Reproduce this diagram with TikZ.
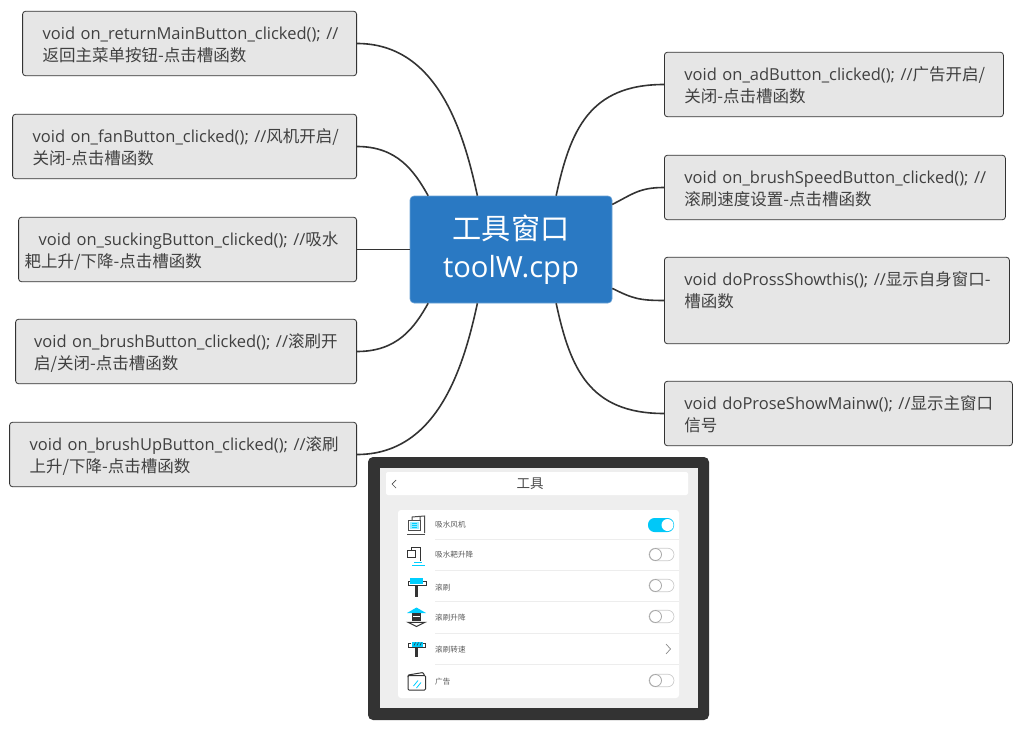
\documentclass[tikz,border=0pt]{standalone}
\usepackage{fontspec}
\setmainfont{Open Sans}
\newfontfamily\cjk{Noto Sans CJK SC}
\newcommand{\zh}[1]{{\cjk #1}}
\definecolor{hubblue}{HTML}{2A79C3}
\definecolor{topicgray}{HTML}{E6E6E6}
\definecolor{linedark}{HTML}{333333}
\definecolor{framedark}{HTML}{333333}
\definecolor{screengray}{HTML}{EEEEEE}
\definecolor{togglecyan}{HTML}{00C8F8}
\definecolor{iconcyan}{HTML}{00CFFF}
\tikzset{
  topic/.style={draw=linedark, fill=topicgray, rounded corners=3pt, line width=0.8pt,
    inner xsep=20pt, inner ysep=10.5pt, text height=18pt, text depth=25.5pt,
    align=left, text=black!75, font=\fontsize{16.5}{22}\selectfont},
  hub/.style={fill=hubblue, draw=hubblue!70!white, line width=0.6pt, rounded corners=4pt,
    minimum width=202pt, minimum height=107pt, align=center, text=white,
    font=\fontsize{29.2}{38}\selectfont},
  link/.style={draw=linedark, line width=1.6pt},
  rowlabel/.style={font=\cjk\fontsize{7.6}{8}\selectfont, text=black!65, anchor=west, inner sep=0pt},
  icon/.style={draw=linedark, line width=1pt},
}
\begin{document}
\begin{tikzpicture}[x=1pt,y=-1pt]
  \useasboundingbox (0,0) rectangle (1024,730);
  % centre
  \node[hub] (hub) at (511,249.5) {\zh{工具窗口}\\toolW.cpp};
  % left side
  \node[topic,text width=294pt,anchor=east] (L0) at (357,43.5) {\mbox{void on\_returnMainButton\_clicked(); //}\\\mbox{\zh{返回主菜单按钮-点击槽函数}}};
  \node[topic,text width=304pt,anchor=east] (L1) at (357,146.5) {\mbox{void on\_fanButton\_clicked(); //\zh{风机开启/}}\\\mbox{\zh{关闭-点击槽函数}}};
  \node[topic,text width=298pt,anchor=east] (L2) at (357,249.5) {\mbox{void on\_suckingButton\_clicked(); //\zh{吸水}}\\\hspace*{-14pt}\mbox{\zh{耙上升/下降-点击槽函数}}};
  \node[topic,text width=301pt,anchor=east] (L3) at (357,351.5) {\hspace*{-1.5pt}\mbox{void on\_brushButton\_clicked(); //\zh{滚刷开}}\\\hspace*{-1.5pt}\mbox{\zh{启/关闭-点击槽函数}}};
  \node[topic,text width=307pt,anchor=east] (L4) at (357,454.5) {\mbox{void on\_brushUpButton\_clicked(); //\zh{滚刷}}\\\mbox{\zh{上升/下降-点击槽函数}}};
  % right side
  \node[topic,text width=299pt,anchor=west] (R0) at (664,84.5) {\mbox{void on\_adButton\_clicked(); //\zh{广告开启/}}\\\mbox{\zh{关闭-点击槽函数}}};
  \node[topic,text width=301pt,anchor=west] (R1) at (664,187.5) {\mbox{void on\_brushSpeedButton\_clicked(); //}\\\mbox{\zh{滚刷速度设置-点击槽函数}}};
  \node[topic,text width=305pt,text depth=47.5pt,anchor=west] (R2) at (664,300.5) {\mbox{void doProssShowthis(); //\zh{显示自身窗口-}}\\\mbox{\zh{槽函数}}};
  \node[topic,text width=308pt,anchor=west] (R3) at (664,413.5) {\mbox{void doProseShowMainw(); //\zh{显示主窗口}}\\\mbox{\zh{信号}}};
  % links
  \path[link] (L0.east) .. controls +(80,0) and +(-14,-65) .. (hub.122);
  \path[link] (L1.east) .. controls +(40,0) and +(-14,-25) .. (hub.147.5);
  \path[link] (L2.east) -- (hub.west);
  \path[link] (L3.east) .. controls +(40,0) and +(-14,25) .. (hub.-147.5);
  \path[link] (L4.east) .. controls +(80,0) and +(-14,65) .. (hub.-122);
  \path[link] (R0.west) .. controls +(-75,0) and +(14,-65) .. (hub.50.6);
  \path[link] (R1.west) .. controls +(-25,0) and +(20,-10) .. (hub.24.7);
  \path[link] (R2.west) .. controls +(-25,0) and +(20,10) .. (hub.-21.4);
  \path[link] (R3.west) .. controls +(-75,0) and +(14,65) .. (hub.-50.6);
  % screenshot
  \fill[framedark,rounded corners=5pt] (368,457) rectangle (709,720);
  \fill[screengray] (379.5,468) rectangle (698,708);
  \fill[white,rounded corners=2pt] (386,472) rectangle (688,495);
  \draw[black!70,line width=0.7pt] (396,480) -- (392,484) -- (396,488);
  \node[font=\cjk\fontsize{13.5}{14}\selectfont,text=black!70] (title) at (530,484) {工具};
  \fill[white,rounded corners=3pt] (398,510) rectangle (679,698);
  \foreach \y in {539,570.5,601.5,633,664}
    \draw[black!7,line width=0.6pt] (435,\y) -- (679,\y);
  \foreach \y/\t in {525/吸水风机,555/吸水耙升降,587.5/滚刷,617.5/滚刷升降,649.5/滚刷转速,681.5/广告}
    \node[rowlabel] at (435,\y) {\t};
  % toggles
  \fill[togglecyan,rounded corners=6.5pt] (648,518) rectangle (674,532);
  \fill[white] (667.5,525) circle (6pt);
  \foreach \y in {554.5,585.5,616.5,680.5}{
    \draw[black!20,fill=white,line width=0.7pt,rounded corners=6.4pt] (649,\y-6.3) rectangle (674,\y+6.3);
    \draw[black!35,fill=white,line width=0.8pt] (655.5,\y) circle (6pt);
  }
  \draw[black!45,line width=0.7pt] (666,644) -- (670.5,649) -- (666,654);
  % icons
  \draw[icon,black!70] (412,520) -- (412,517) -- (424.5,516) -- (424.5,533) (420,517) -- (420,530);
  \draw[icon,black!70,fill=white] (408,520) rectangle (420,530);
  \fill[iconcyan!40] (410,521.5) rectangle (418.5,528.5);
  \draw[iconcyan,line width=0.6pt] (412,523) -- (417,523) (412,525) -- (417,525) (412,527) -- (417,527);
  \draw[icon,black!70] (407,534) -- (425,534);
  \draw[icon] (407.5,550) rectangle (415.5,557.5);
  \draw[icon] (411,550) -- (411,547) -- (420,547) -- (420,561);
  \fill[iconcyan] (414,562) rectangle (422,563.3);
  \fill[iconcyan] (412,564.6) rectangle (425,566);
  \fill[iconcyan] (410,578) rectangle (422.5,584);
  \draw[icon] (410,581) -- (408,581) -- (408,585.5) -- (426,585.5) -- (426,581) -- (423,581);
  \fill[linedark] (414.5,585.5) rectangle (418,597);
  \fill[iconcyan] (407,613) -- (416.5,607.5) -- (426,613) -- cycle;
  \fill[linedark] (412,613) rectangle (421,621);
  \fill[white] (413,615.5) rectangle (420,617);
  \draw[icon] (408,622.3) -- (425,622.3) -- (416.5,626.5) -- cycle;
  \fill[iconcyan] (411.5,641.5) rectangle (422.5,646.5);
  \draw[linedark,line width=0.6pt] (414,645.5) -- (415.5,642.5) (417,645.5) -- (418.5,642.5) (420,645.5) -- (421.5,642.5);
  \draw[icon] (411,643.5) -- (408.5,643.5) -- (408.5,647.5) -- (425.5,647.5) -- (425.5,643.5) -- (423,643.5);
  \fill[linedark] (415,647.5) rectangle (418,657);
  \draw[icon,rounded corners=1pt] (408,675.5) rectangle (425.5,690);
  \draw[icon,rounded corners=1pt] (408,675.5) -- (408,675) -- (423,672.5) -- (424.5,675.5);
  \draw[iconcyan,line width=0.8pt] (413.5,686) -- (418,680.5) (416.5,688) -- (421,682.5);
\end{tikzpicture}
\end{document}
